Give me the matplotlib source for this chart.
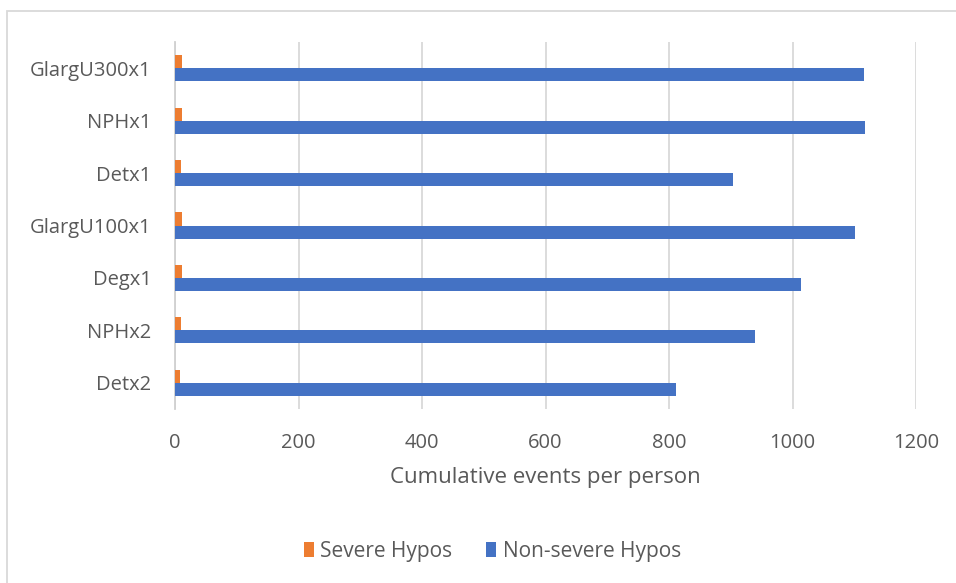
import matplotlib
matplotlib.use("Agg")
import matplotlib.pyplot as plt
from matplotlib.patches import Rectangle
import numpy as np

categories = ["Detx2", "NPHx2", "Degx1", "GlargU100x1", "Detx1", "NPHx1", "GlargU300x1"]
severe = [8, 10, 12, 12, 10, 12, 12]
non_severe = [811, 940, 1013, 1102, 903, 1117, 1115]
xticks = [0, 200, 400, 600, 800, 1000, 1200]

plt.rcParams['font.family'] = ['Open Sans', 'DejaVu Sans']
txt = '#595959'

fig = plt.figure(figsize=(9.56, 5.83), dpi=100)
ax = fig.add_axes([175/956, (583-409)/583, (916-175)/956, (409-42)/583])

y = np.arange(len(categories))
h = 0.25
ax.barh(y + h/2, severe, height=h, color='#ED7D31', label='Severe Hypos', zorder=3)
ax.barh(y - h/2, non_severe, height=h, color='#4472C4', label='Non-severe Hypos', zorder=3)

ax.set_xlim(0, 1200)
ax.set_ylim(-0.5, len(categories) - 0.5)
ax.set_xticks(xticks)
ax.set_yticks(y)
ax.set_yticklabels(categories)
ax.grid(axis='x', color='#d9d9d9', linewidth=1.3, zorder=0)
for s in ['top', 'right', 'bottom']:
    ax.spines[s].set_visible(False)
ax.spines['left'].set_color('#d0d0d0')
ax.spines['left'].set_linewidth(1.3)
ax.tick_params(axis='both', length=0, colors=txt, labelsize=14.5)
ax.tick_params(axis='x', pad=17)
ax.tick_params(axis='y', pad=17)
ax.set_xlabel('Cumulative events per person', color=txt, fontsize=16, labelpad=10)

leg = fig.legend(loc='center', bbox_to_anchor=(0.515, (583-551)/583), ncol=2, frameon=False,
                 fontsize=15, handlelength=0.5, handleheight=0.7, handletextpad=0.3, columnspacing=1.6)
for t in leg.get_texts():
    t.set_color(txt)

fig.patches.append(Rectangle((7/956, -0.05), 1.1, (583-11)/583 + 0.05, transform=fig.transFigure,
                             fill=False, edgecolor='#d9d9d9', linewidth=1.3))

fig.savefig('out.png', dpi=100, facecolor='white')
